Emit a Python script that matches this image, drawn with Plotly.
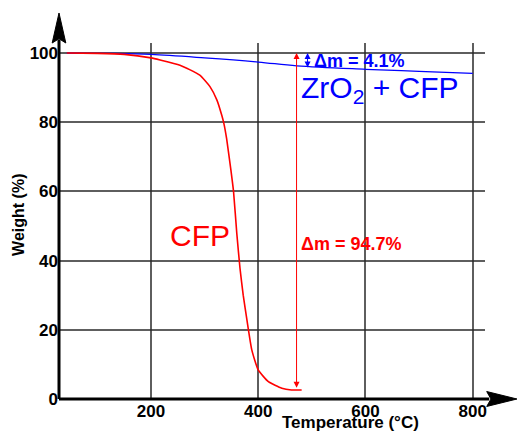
import plotly.graph_objects as go

# ---- data ----
cfp_temp = [43, 100, 150, 200, 217, 254, 291, 310, 323, 332, 336, 341, 349, 354,
            360, 366, 372, 379, 388, 400, 419, 444, 462, 481]
cfp_weight = [100, 99.9, 99.6, 98.6, 98.0, 96.5, 93.6, 90.3, 86.4, 82.0, 79.6, 75.3,
              66.2, 59.9, 47.9, 37.8, 30.0, 22.8, 14.2, 8.4, 5.0, 3.1, 2.6, 2.6]

zr_temp = [43, 120, 200, 300, 400, 472, 600, 700, 800]
zr_weight = [100, 99.9, 99.6, 98.6, 97.4, 96.3, 95.3, 94.7, 94.1]

x_ticks = [200, 400, 600, 800]
y_ticks = [0, 20, 40, 60, 80, 100]

x_range = [28.4, 823]
y_range = [0, 102.9]

FONT = "Liberation Sans, Arial, Helvetica, sans-serif"
RED = "#ff0000"
BLUE = "#0000ff"
GRID = "rgba(40,40,40,0.75)"

fig = go.Figure()
fig.add_trace(go.Scatter(x=zr_temp, y=zr_weight, mode="lines",
                         line=dict(color=BLUE, width=1.3, shape="spline"),
                         showlegend=False))
fig.add_trace(go.Scatter(x=cfp_temp, y=cfp_weight, mode="lines",
                         line=dict(color=RED, width=1.6, shape="spline", smoothing=0.5),
                         showlegend=False))

# delta-m arrows
arrow_x_cfp = 471.5
arrow_x_zr = 492
fig.add_annotation(x=arrow_x_cfp, y=100, ax=arrow_x_cfp, ay=cfp_weight[-1] + 0.2,
                   xref="x", yref="y", axref="x", ayref="y", text="",
                   showarrow=True, arrowside="end+start", arrowhead=2,
                   arrowsize=1.2, arrowwidth=1, arrowcolor=RED)
fig.add_annotation(x=arrow_x_zr, y=100, ax=arrow_x_zr, ay=95.4,
                   xref="x", yref="y", axref="x", ayref="y", text="",
                   showarrow=True, arrowside="end+start", arrowhead=2,
                   arrowsize=1.2, arrowwidth=1, arrowcolor=BLUE)

# labels
fig.add_annotation(x=500, y=97.6, xref="x", yref="y", text="<b>Δm = 4.1%</b>",
                   showarrow=False, xanchor="left", yanchor="middle",
                   font=dict(family=FONT, size=18, color=BLUE))
fig.add_annotation(x=476, y=89.5, xref="x", yref="y", text="ZrO<sub>2</sub> + CFP",
                   showarrow=False, xanchor="left", yanchor="middle",
                   font=dict(family=FONT, size=30, color=BLUE))
fig.add_annotation(x=476, y=44.8, xref="x", yref="y", text="<b>Δm = 94.7%</b>",
                   showarrow=False, xanchor="left", yanchor="middle",
                   font=dict(family=FONT, size=18, color=RED))
fig.add_annotation(x=232, y=47.3, xref="x", yref="y", text="CFP",
                   showarrow=False, xanchor="left", yanchor="middle",
                   font=dict(family=FONT, size=30, color=RED))

# axis titles
fig.add_annotation(x=-0.094, y=0.517, xref="paper", yref="paper", text="<b>Weight (%)</b>",
                   textangle=-90, showarrow=False, xanchor="center", yanchor="middle",
                   font=dict(family=FONT, size=16, color="black"))
fig.add_annotation(x=0.685, y=-0.066, xref="paper", yref="paper",
                   text="<b>Temperature (°C)</b>", showarrow=False,
                   xanchor="center", yanchor="middle",
                   font=dict(family=FONT, size=17, color="black"))

# axis arrows (paper coordinates)
fig.add_shape(type="line", xref="paper", yref="paper", x0=0, y0=0, x1=1.01, y1=0,
              line=dict(color="black", width=3))
fig.add_shape(type="path", xref="paper", yref="paper",
              path="M 1.075 0 L 1.004 0.021 L 1.014 0 L 1.004 -0.021 Z",
              fillcolor="black", line=dict(color="black", width=1))
fig.add_shape(type="line", xref="paper", yref="paper", x0=0, y0=0, x1=0, y1=1.01,
              line=dict(color="black", width=3))
fig.add_shape(type="path", xref="paper", yref="paper",
              path="M 0 1.0843 L -0.0160 1.0 L 0 1.012 L 0.0160 1.0 Z",
              fillcolor="black", line=dict(color="black", width=1))

fig.update_xaxes(range=x_range, tickvals=x_ticks, ticktext=[str(v) for v in x_ticks],
                 showgrid=True, gridcolor=GRID, gridwidth=1.5, zeroline=False,
                 showline=False, ticks="",
                 tickfont=dict(family=FONT, size=17, color="black", weight="bold"))
fig.update_yaxes(range=y_range, tickvals=y_ticks, ticktext=[str(v) for v in y_ticks],
                 showgrid=True, gridcolor=GRID, gridwidth=1.5, zeroline=False,
                 showline=False, ticks="",
                 tickfont=dict(family=FONT, size=17, color="black", weight="bold"))

fig.update_layout(width=517, height=432, margin=dict(l=59, r=32, t=43, b=33),
                  plot_bgcolor="white", paper_bgcolor="white", showlegend=False)

fig.write_html("out.html")
